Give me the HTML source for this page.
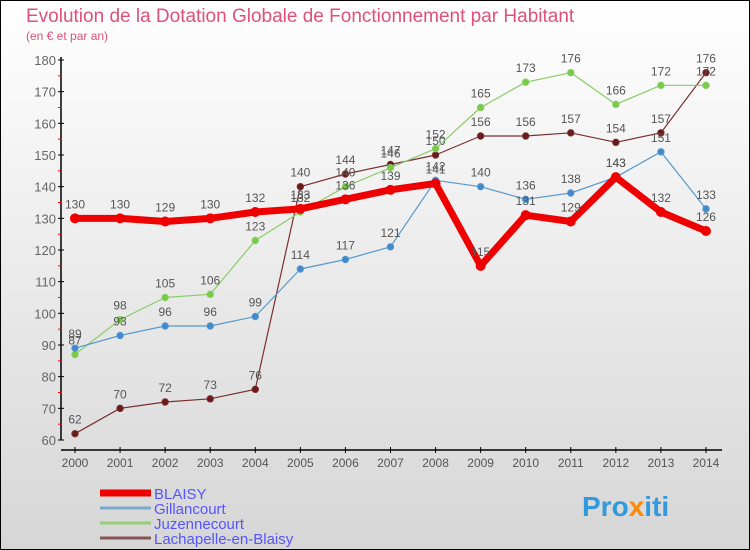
<!DOCTYPE html>
<html><head><meta charset="utf-8"><style>
body{margin:0;}
svg{display:block;font-family:"Liberation Sans",sans-serif;}
</style></head><body>
<svg width="750" height="550" viewBox="0 0 750 550">
<defs><linearGradient id="bg" x1="0" y1="0" x2="0" y2="1"><stop offset="0" stop-color="#ffffff"/><stop offset="1" stop-color="#d6d6d6"/></linearGradient></defs>
<rect x="0" y="0" width="750" height="550" fill="url(#bg)" stroke="#000" stroke-width="2"/>
<text x="26" y="22" font-size="19" fill="#e0507a">Evolution de la Dotation Globale de Fonctionnement par Habitant</text>
<text x="26" y="40" font-size="12" fill="#e0507a">(en € et par an)</text>
<g id="axes"></g>
<g id="series"></g>
<g id="legend"></g>
<text x="582" y="516" font-size="28" font-weight="bold" fill="#3399dd">Pro<tspan fill="#ff8800">x</tspan>iti</text>
</svg>
<script>
const years=[2000,2001,2002,2003,2004,2005,2006,2007,2008,2009,2010,2011,2012,2013,2014];
const yTicks=[60,70,80,90,100,110,120,130,140,150,160,170,180];
const blaisy=[130,130,129,130,132,133,136,139,141,115,131,129,143,132,126];
const gillancourt=[89,93,96,96,99,114,117,121,142,140,136,138,143,151,133];
const juzennecourt=[87,98,105,106,123,132,140,146,152,165,173,176,166,172,172];
const lachapelle=[62,70,72,73,76,140,144,147,150,156,156,157,154,157,176];
const NS="http://www.w3.org/2000/svg";
function X(i){return 75+i*45.07;}
function Y(v){return 440-(v-60)*380/120;}
function mk(t,a,p){const e=document.createElementNS(NS,t);for(const k in a)e.setAttribute(k,a[k]);p.appendChild(e);return e;}
const ax=document.getElementById('axes');
let e=mk('line',{x1:61,y1:57,x2:61,y2:440,stroke:'#000','stroke-width':1.5},ax);


e=mk('line',{x1:61,y1:450,x2:722,y2:450,stroke:'#000','stroke-width':1.5},ax);


yTicks.forEach(v=>{
 mk('line',{x1:58,y1:Y(v),x2:64,y2:Y(v),stroke:'#000'},ax);
 if(v<180)mk('line',{x1:58,y1:Y(v+5),x2:62,y2:Y(v+5),stroke:'#f00'},ax);
 const t=mk('text',{x:56,y:Y(v)+5,'font-size':13,fill:'#666','text-anchor':'end'},ax);t.textContent=v;
 
 
});
years.forEach((y,i)=>{
 mk('line',{x1:X(i),y1:447,x2:X(i),y2:453,stroke:'#000'},ax);
 const t=mk('text',{x:X(i),y:467,'font-size':12,fill:'#555','text-anchor':'middle'},ax);t.textContent=y;
 
 
});
const S=document.getElementById('series');
function draw(vals,color,w,name,r,dot){
 const g=mk('g',{},S);
 
 
 mk('polyline',{points:vals.map((v,i)=>X(i)+','+Y(v)).join(' '),fill:'none',stroke:color,'stroke-width':w,'stroke-linejoin':'round'},g);
 vals.forEach((v,i)=>{
  const c=mk('circle',{cx:X(i),cy:Y(v),r:r,fill:dot,stroke:color,'stroke-width':1},g);
  
  
  const t=mk('text',{x:X(i),y:Y(v)-10,'font-size':12,fill:'#555','text-anchor':'middle'},g);t.textContent=v;
  
  
 });
}
draw(lachapelle,'#7a3030',1.2,'lachapelle',3.2,'#6a1a1a');
draw(juzennecourt,'#88cc66',1.2,'juzennecourt',3.2,'#77cc44');
draw(gillancourt,'#5599cc',1.2,'gillancourt',3.2,'#4488cc');
draw(blaisy,'#ee0000',7,'blaisy',4.5,'#ee0000');
const L=document.getElementById('legend');
[['BLAISY','#ee0000',7],['Gillancourt','#77aacc',3],['Juzennecourt','#99cc77',3],['Lachapelle-en-Blaisy','#885555',3]].forEach((d,i)=>{
 const y=493+i*15;
 const g=mk('g',{},L);
 
 
 mk('line',{x1:100,y1:y,x2:151,y2:y,stroke:d[1],'stroke-width':d[2]},g);
 const t=mk('text',{x:154,y:y+6,'font-size':15,fill:'#5555ff'},g);t.textContent=d[0];
});
</script>
</body></html>
